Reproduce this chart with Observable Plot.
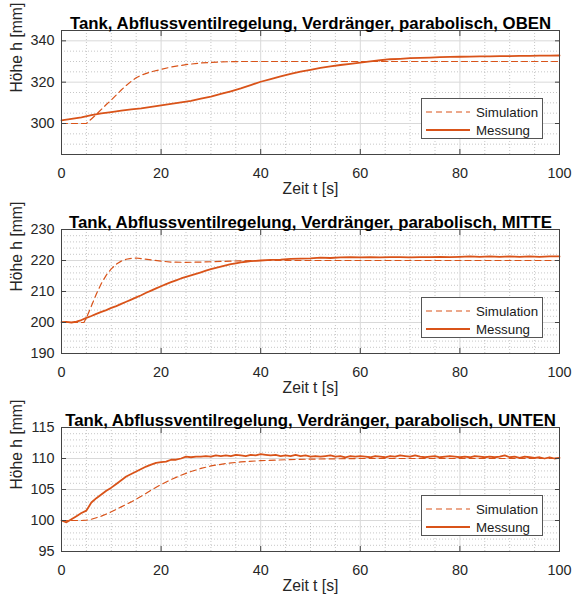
<!DOCTYPE html>
<html>
<head>
<meta charset="utf-8">
<script src="https://cdn.jsdelivr.net/npm/d3@7"></script>
<script src="https://cdn.jsdelivr.net/npm/@observablehq/plot@0.6"></script>
<style>
  html, body { margin: 0; padding: 0; background: white; }
  #root { position: relative; width: 572px; height: 597px; overflow: hidden; font-family: "Liberation Sans", Arial, sans-serif; }
  .panel { position: absolute; left: 0; width: 572px; height: 200px; }
  .legend { position: absolute; left: 421px; top: 98px; width: 122px; height: 41px; box-sizing: border-box;
            border: 1px solid #555; background: white; font-size: 13.3px; color: #1a1a1a; }
  .legend .row { position: absolute; left: 4px; height: 18px; display: flex; align-items: center; }
  .legend svg { display: block; margin-right: 5px; }
</style>
</head>
<body>
<div id="root"></div>
<script>
// ---------- data ----------
const titles = [
  "Tank, Abflussventilregelung, Verdränger, parabolisch, OBEN",
  "Tank, Abflussventilregelung, Verdränger, parabolisch, MITTE",
  "Tank, Abflussventilregelung, Verdränger, parabolisch, UNTEN"
];
const xLabel = "Zeit t [s]";
const yLabel = "Höhe h [mm]";
const seriesNames = ["Simulation", "Messung"];
const xTicks = [0, 20, 40, 60, 80, 100];
const yTicksTop = [300, 320, 340];
const yTicksMid = [190, 200, 210, 220, 230];
const yTicksBot = [95, 100, 105, 110, 115];

// OBEN
const simTopT = [0, 5, 6, 7, 8, 9, 10, 11, 12, 13, 14, 15, 16, 18, 20, 22, 25, 28, 32, 36, 40, 100];
const simTopH = [300, 300, 302.2, 304.4, 306.8, 309.2, 311.4, 313.8, 316.2, 318.4, 320.4, 322.1, 323.4, 325, 326.2, 327.3, 328.5, 329.3, 329.8, 330, 330, 330];
const measTopT = [0,2,4,6,8,10,12,14,16,18,20,22,24,26,28,30,32,34,36,38,40,42,44,46,48,50,52,54,56,58,60,62,64,66,68,70,72,74,76,78,80,82,84,86,88,90,92,94,96,98,100];
const measTopH = [301.5,302.2,303.0,304.0,304.9,305.5,306.2,306.8,307.3,308.0,308.8,309.5,310.2,311.0,312.0,313.0,314.3,315.6,317.0,318.6,320.2,321.5,322.8,324.0,325.1,326.0,326.9,327.6,328.3,328.9,329.5,330.1,330.6,331.1,331.3,331.6,331.8,331.9,332.1,332.2,332.3,332.4,332.5,332.5,332.6,332.6,332.7,332.7,332.8,332.8,332.9];

// MITTE
const simMidT = [0, 4.5, 5, 6, 7, 8, 9, 10, 11, 12, 13, 14, 15, 16, 18, 20, 22, 25, 28, 32, 36, 40, 100];
const simMidH = [200, 200, 201.5, 205.3, 209.2, 212.6, 215.3, 217.3, 218.8, 219.8, 220.4, 220.7, 220.8, 220.6, 220.2, 219.8, 219.5, 219.4, 219.5, 219.7, 219.9, 220, 220];
const measMidT = [0,1,2,3,4,5,6,7,8,9,10,11,12,13,14,15,16,17,18,19,20,21,22,23,24,25,26,27,28,29,30,31,32,33,34,35,36,37,38,39,40,42,44,46,48,50,52,54,56,58,60,62,64,66,68,70,72,74,76,78,80,82,84,86,88,90,92,94,96,98,100];
const measMidH = [200.1,200.2,200.0,200.3,200.8,201.5,202.1,202.8,203.4,204.0,204.7,205.3,206.0,206.7,207.4,208.1,208.8,209.6,210.3,211.0,211.7,212.4,213.0,213.6,214.2,214.7,215.2,215.7,216.2,216.7,217.2,217.6,218.0,218.4,218.8,219.1,219.4,219.6,219.8,219.9,220.0,220.2,220.3,220.5,220.6,220.7,220.9,220.8,221.0,221.1,221.0,221.1,221.0,221.1,221.1,221.0,221.1,221.1,221.2,221.1,221.2,221.3,221.2,221.3,221.2,221.3,221.2,221.3,221.2,221.3,221.3];

// UNTEN
const simBotT = [0, 4, 5, 6, 8, 10, 12, 14, 16, 18, 20, 22, 24, 26, 28, 30, 33, 36, 40, 45, 50, 55, 60, 100];
const simBotH = [100, 100, 100.05, 100.2, 100.7, 101.4, 102.2, 103, 103.9, 104.9, 105.8, 106.6, 107.3, 107.9, 108.4, 108.8, 109.2, 109.45, 109.65, 109.8, 109.9, 109.95, 110, 110];
const measBotT = [0,1,2,3,4,5,6,7,8,9,10,11,12,13,14,15,16,17,18,19,20,21,22,23,24,25,26,27,28,29,30,31,32,33,34,35,36,37,38,39,40,41,42,43,44,45,46,47,48,49,50,51,52,53,54,55,56,57,58,59,60,61,62,63,64,65,66,67,68,69,70,71,72,73,74,75,76,77,78,79,80,81,82,83,84,85,86,87,88,89,90,91,92,93,94,95,96,97,98,99,100];
const measBotH = [100.0,99.7,100.2,100.7,101.2,101.6,102.9,103.6,104.2,104.8,105.3,105.9,106.5,107.1,107.5,107.9,108.3,108.7,109.0,109.3,109.4,109.5,109.8,109.8,110.0,110.3,110.2,110.3,110.3,110.4,110.3,110.5,110.4,110.5,110.4,110.6,110.5,110.4,110.6,110.5,110.7,110.6,110.5,110.6,110.4,110.5,110.4,110.6,110.4,110.5,110.3,110.4,110.3,110.4,110.5,110.3,110.4,110.2,110.4,110.3,110.4,110.3,110.2,110.4,110.3,110.2,110.4,110.3,110.5,110.4,110.3,110.5,110.3,110.2,110.3,110.4,110.2,110.3,110.4,110.3,110.2,110.3,110.2,110.4,110.3,110.2,110.3,110.2,110.3,110.5,110.2,110.3,110.1,110.3,110.2,110.1,110.2,110.0,110.2,110.0,110.1];

// ---------- build ----------
const zip = (T, H) => T.map((t, i) => ({t, h: H[i]}));
const panels = [
  {title: titles[0], domain: [285, 345], yTicks: yTicksTop, minorStep: 5, sim: zip(simTopT, simTopH), meas: zip(measTopT, measTopH), top: 0},
  {title: titles[1], domain: [190, 230], yTicks: yTicksMid, minorStep: 2, sim: zip(simMidT, simMidH), meas: zip(measMidT, measMidH), top: 199},
  {title: titles[2], domain: [95, 115], yTicks: yTicksBot, minorStep: 1, sim: zip(simBotT, simBotH), meas: zip(measBotT, measBotH), top: 397}
];
const color = "#D95319";
const axisColor = "#444";
const xMinor = d3.range(0, 100.001, 5).filter(v => v % 20 !== 0);

const root = document.getElementById("root");
for (const p of panels) {
  const yMinor = d3.range(p.domain[0], p.domain[1] + 0.001, p.minorStep)
    .filter(v => !p.yTicks.includes(v) && v > p.domain[0] && v < p.domain[1]);
  const chart = Plot.plot({
    width: 572, height: 200,
    marginLeft: 61, marginRight: 13, marginTop: 30, marginBottom: 46,
    style: {fontFamily: "'Liberation Sans', Arial, sans-serif", fontSize: "14.4px", color: "#262626", background: "white", overflow: "visible"},
    x: {domain: [0, 100]},
    y: {domain: p.domain},
    marks: [
      Plot.ruleX(xMinor, {stroke: "#9a9a9a", strokeWidth: 0.7, strokeDasharray: "1,2", strokeOpacity: 0.8}),
      Plot.ruleY(yMinor, {stroke: "#9a9a9a", strokeWidth: 0.7, strokeDasharray: "1,2", strokeOpacity: 0.8}),
      Plot.ruleX(xTicks, {stroke: "#d9d9d9", strokeWidth: 1}),
      Plot.ruleY(p.yTicks, {stroke: "#d9d9d9", strokeWidth: 1}),
      Plot.line(p.sim, {x: "t", y: "h", stroke: color, strokeWidth: 1.2, strokeDasharray: "6,4"}),
      Plot.line(p.meas, {x: "t", y: "h", stroke: color, strokeWidth: 1.8}),
      Plot.frame({stroke: axisColor, strokeWidth: 1}),
      Plot.axisX({anchor: "bottom", ticks: xTicks, tickSize: -5, tickPadding: 18, label: null, fontSize: 14.4, stroke: axisColor}),
      Plot.axisX({anchor: "top", ticks: xTicks, tickSize: -5, tickFormat: () => "", label: null, stroke: axisColor}),
      Plot.axisY({anchor: "left", ticks: p.yTicks, tickSize: -5, tickPadding: 12, label: null, fontSize: 14.4, stroke: axisColor}),
      Plot.axisY({anchor: "right", ticks: p.yTicks, tickSize: -5, tickFormat: () => "", label: null, stroke: axisColor}),
      Plot.text([p.title], {frameAnchor: "top", dy: -13, fontWeight: "bold", fontSize: 16.8, fill: "#000"}),
      Plot.text([xLabel], {frameAnchor: "bottom", dy: 39, fontSize: 15.7, fill: "#262626"}),
      Plot.text([yLabel], {frameAnchor: "left", dx: -45, rotate: -90, fontSize: 15.7, fill: "#262626"})
    ]
  });
  const div = document.createElement("div");
  div.className = "panel";
  div.style.top = p.top + "px";
  div.appendChild(chart);

  const lg = document.createElement("div");
  lg.className = "legend";
  const rows = [
    {name: seriesNames[0], dash: "6,4", w: 1.2, y: 4},
    {name: seriesNames[1], dash: null, w: 1.8, y: 22}
  ];
  for (const r of rows) {
    const row = document.createElement("div");
    row.className = "row";
    row.style.top = r.y + "px";
    row.innerHTML = `<svg width="45" height="10"><line x1="0" x2="44" y1="5" y2="5" stroke="${color}" stroke-width="${r.w}" ${r.dash ? `stroke-dasharray="${r.dash}"` : ""}/></svg><span>${r.name}</span>`;
    lg.appendChild(row);
  }
  div.appendChild(lg);
  root.appendChild(div);
}
</script>
</body>
</html>
